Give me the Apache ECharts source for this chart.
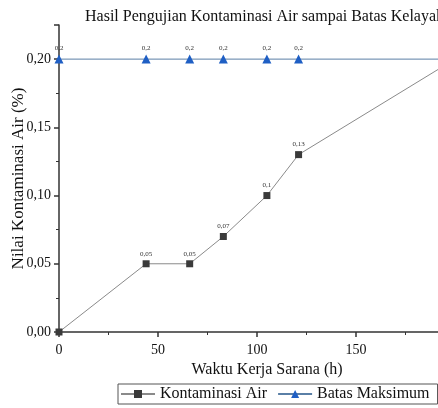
<!DOCTYPE html>
<html>
<head>
<meta charset="utf-8">
<script src="https://cdn.jsdelivr.net/npm/echarts@6/dist/echarts.min.js"></script>
<style>html,body{margin:0;padding:0;background:#fff}#c{width:438px;height:408px}</style>
</head>
<body>
<div id="c"></div>
<script>
var hours = [0, 44, 66, 83, 105, 121, 200];
var kontaminasi = [0, 0.05, 0.05, 0.07, 0.1, 0.13, 0.2];
var batasMaksimum = [0.2, 0.2, 0.2, 0.2, 0.2, 0.2, 0.2];
var xTicks = [0, 50, 100, 150, 200];
var yTicks = [0, 0.05, 0.1, 0.15, 0.2];
var titleText = 'Hasil Pengujian Kontaminasi Air sampai Batas Kelayakan';
var seriesNames = ['Kontaminasi Air', 'Batas Maksimum'];

var font = 'Liberation Serif';
function fmt(v){ return String(v).replace('.', ','); }
function pairs(xs, ys){ return xs.map(function(x,i){ return [x, ys[i]]; }); }

var chart = echarts.init(document.getElementById('c'));
chart.setOption({
  animation: false,
  title: {
    text: titleText, left: 80, top: 4,
    textStyle: { fontFamily: font, fontSize: 16, fontWeight: 'normal', color: '#111' }
  },
  legend: {
    left: 118, top: 384,
    data: seriesNames,
    borderColor: '#555', borderWidth: 1, padding: [2, 8, 2, 2],
    itemGap: 10, itemWidth: 34, itemHeight: 10,
    textStyle: { fontFamily: font, fontSize: 16, color: '#111' }
  },
  grid: { left: 59, right: -17, top: 25, bottom: 76, outerBoundsMode: 'none', containLabel: false },
  xAxis: {
    type: 'value', min: 0, max: 200, interval: 50,
    name: 'Waktu Kerja Sarana (h)', nameLocation: 'middle', nameGap: 30,
    nameTextStyle: { fontFamily: font, fontSize: 16, color: '#111', padding: [0, 0, 0, 20] },
    axisLine: { show: true, lineStyle: { color: '#333', width: 1.5 } },
    axisTick: { show: true, length: 5, lineStyle: { color: '#333', width: 1.5 } },
    minorTick: { show: true, splitNumber: 2, length: 3, lineStyle: { color: '#333' } },
    axisLabel: { fontFamily: font, fontSize: 14, color: '#111', margin: 11,
      formatter: function(v){ return xTicks.indexOf(v) >= 0 ? String(v) : ''; } },
    splitLine: { show: false }
  },
  yAxis: {
    type: 'value', min: 0, max: 0.225, interval: 0.05,
    name: 'Nilai Kontaminasi Air (%)', nameLocation: 'middle', nameGap: 32,
    nameMoveOverlap: false,
    nameTextStyle: { fontFamily: font, fontSize: 17, color: '#111' },
    axisLine: { show: true, lineStyle: { color: '#333', width: 1.5 } },
    axisTick: { show: true, length: 5, lineStyle: { color: '#333', width: 1.5 } },
    minorTick: { show: true, splitNumber: 2, length: 3, lineStyle: { color: '#333' } },
    axisLabel: { fontFamily: font, fontSize: 14, color: '#111', margin: 8,
      formatter: function(v){
        var r = Math.round(v * 100) / 100;
        return yTicks.indexOf(r) >= 0 && Math.abs(v - r) < 1e-9 ? r.toFixed(2).replace('.', ',') : '';
      } },
    splitLine: { show: false }
  },
  series: [
    {
      name: seriesNames[0], type: 'line', data: pairs(hours, kontaminasi),
      symbol: 'rect', symbolSize: 7, clip: true,
      itemStyle: { color: '#3a3a3a' },
      lineStyle: { color: '#8a8a8a', width: 1 },
      label: { show: true, position: 'top', distance: 3, fontFamily: font, fontSize: 7, color: '#333',
        formatter: function(p){ return p.dataIndex === 0 ? '' : fmt(p.value[1]); } },
      z: 3
    },
    {
      name: seriesNames[1], type: 'line', data: pairs(hours, batasMaksimum),
      symbol: 'triangle', symbolSize: 9, clip: true,
      itemStyle: { color: '#1f5fc4' },
      lineStyle: { color: '#5a7fa6', width: 1 },
      label: { show: true, position: 'top', distance: 3, fontFamily: font, fontSize: 7, color: '#333',
        formatter: function(p){ return fmt(p.value[1]); } },
      z: 2
    }
  ]
});
</script>
</body>
</html>
